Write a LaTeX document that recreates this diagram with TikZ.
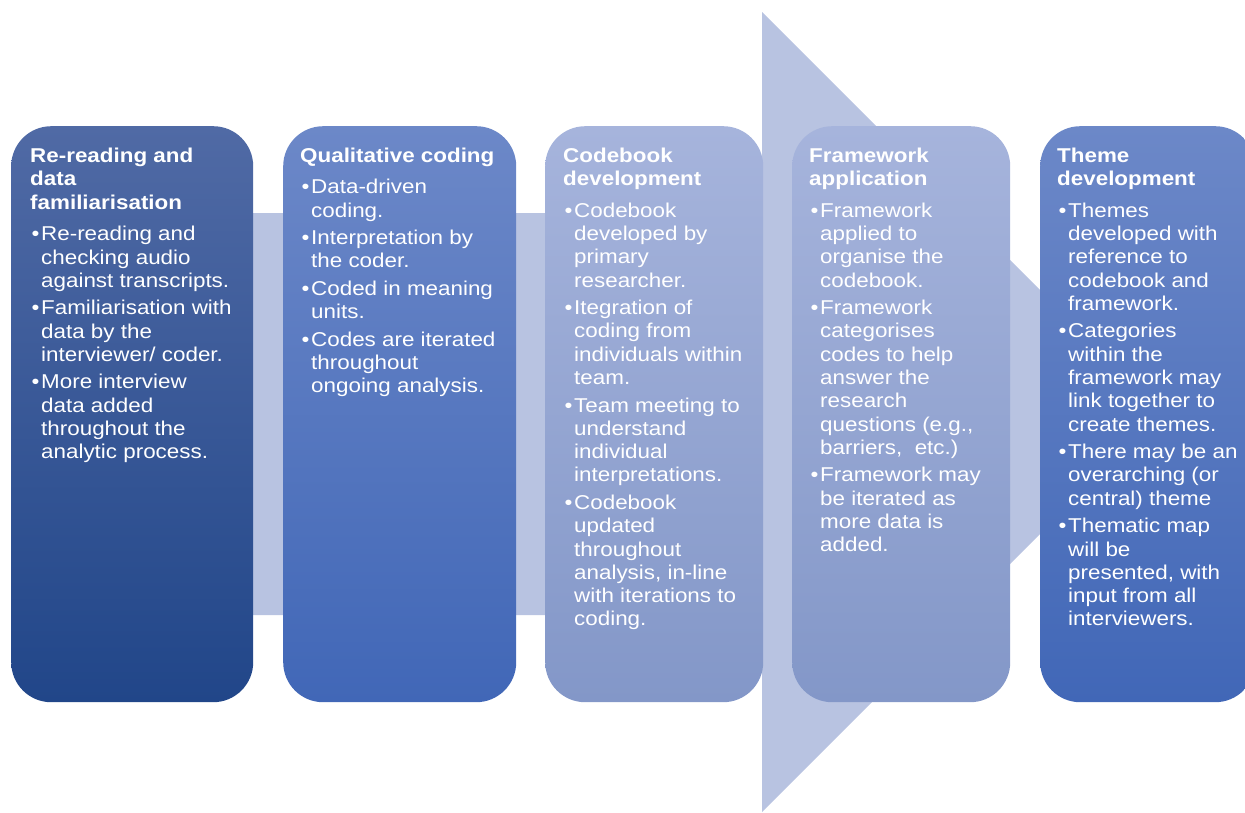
\documentclass[tikz,border=0pt]{standalone}
\usepackage{fontspec}
\setmainfont{Liberation Sans}[FakeStretch=1.12]
\definecolor{arrowc}{RGB}{184,195,225}
\definecolor{aTop}{RGB}{80,106,165}
\definecolor{aBot}{RGB}{33,70,137}
\definecolor{bTop}{RGB}{108,136,200}
\definecolor{bBot}{RGB}{65,103,183}
\definecolor{cTop}{RGB}{166,180,220}
\definecolor{cBot}{RGB}{131,151,200}
\newcommand\ttl[1]{{\fontsize{20}{23.5}\selectfont\bfseries #1\par}\vspace{3.8pt}}
\newcommand\bitem[1]{\par\vspace{4.2pt}\hangindent=11pt\hangafter=1\noindent\makebox[11pt][l]{\hspace{1.5pt}\textbullet}#1\par}
\newcommand\boxtext[1]{\vtop{\hsize=300pt\parindent=0pt\parskip=0pt\fontsize{20}{23.3}\selectfont\color{white}#1}}
\begin{document}
\begin{tikzpicture}[x=1pt,y=-1pt,
  stage/.style={rounded corners=40pt, minimum height=576pt, anchor=north west, inner sep=0pt, shading angle=0},
  stageA/.style={stage, top color=aTop, bottom color=aBot},
  stageB/.style={stage, top color=bTop, bottom color=bBot},
  stageC/.style={stage, top color=cTop, bottom color=cBot},
  txt/.style={anchor=base west, inner sep=0pt, text=white}]
\clip (0,0) rectangle (1245,812);
\useasboundingbox (0,0) rectangle (1245,812);
% big arrow
\fill[arrowc] (30,213) -- (762,213) -- (762,12) -- (1162,412) -- (762,812) -- (762,615) -- (30,615) -- cycle;
% stage boxes
\node[stageA, minimum width=242pt] (b1) at (11,126) {};
\node[stageB, minimum width=233pt] (b2) at (283,126) {};
\node[stageC, minimum width=218pt] (b3) at (545,126) {};
\node[stageC, minimum width=218pt] (b4) at (792,126) {};
\node[stageB, minimum width=215pt] (b5) at (1040,126) {};
% texts
\node[txt] (t1) at (30,148) {\boxtext{%
\ttl{Re-reading and\\data\\familiarisation}%
\bitem{Re-reading and\\checking audio\\against transcripts.}%
\bitem{Familiarisation with\\data by the\\interviewer/ coder.}%
\bitem{More interview\\data added\\throughout the\\analytic process.}}};
\node[txt] (t2) at (300,148) {\boxtext{%
\ttl{Qualitative coding}%
\bitem{Data-driven\\coding.}%
\bitem{Interpretation by\\the coder.}%
\bitem{Coded in meaning\\units.}%
\bitem{Codes are iterated\\throughout\\ongoing analysis.}}};
\node[txt] (t3) at (563,148) {\boxtext{%
\ttl{Codebook\\development}%
\bitem{Codebook\\developed by\\primary\\researcher.}%
\bitem{Itegration of\\coding from\\individuals within\\team.}%
\bitem{Team meeting to\\understand\\individual\\interpretations.}%
\bitem{Codebook\\updated\\throughout\\analysis, in-line\\with iterations to\\coding.}}};
\node[txt] (t4) at (809,148) {\boxtext{%
\ttl{Framework\\application}%
\bitem{Framework\\applied to\\organise the\\codebook.}%
\bitem{Framework\\categorises\\codes to help\\answer the\\research\\questions (e.g.,\\barriers,~ etc.)}%
\bitem{Framework may\\be iterated as\\more data is\\added.}}};
\node[txt] (t5) at (1057,148) {\boxtext{%
\ttl{Theme\\development}%
\bitem{Themes\\developed with\\reference to\\codebook and\\framework.}%
\bitem{Categories\\within the\\framework may\\link together to\\create themes.}%
\bitem{There may be an\\overarching (or\\central) theme}%
\bitem{Thematic map\\will be\\presented, with\\input from all\\interviewers.}}};
\end{tikzpicture}
\end{document}
